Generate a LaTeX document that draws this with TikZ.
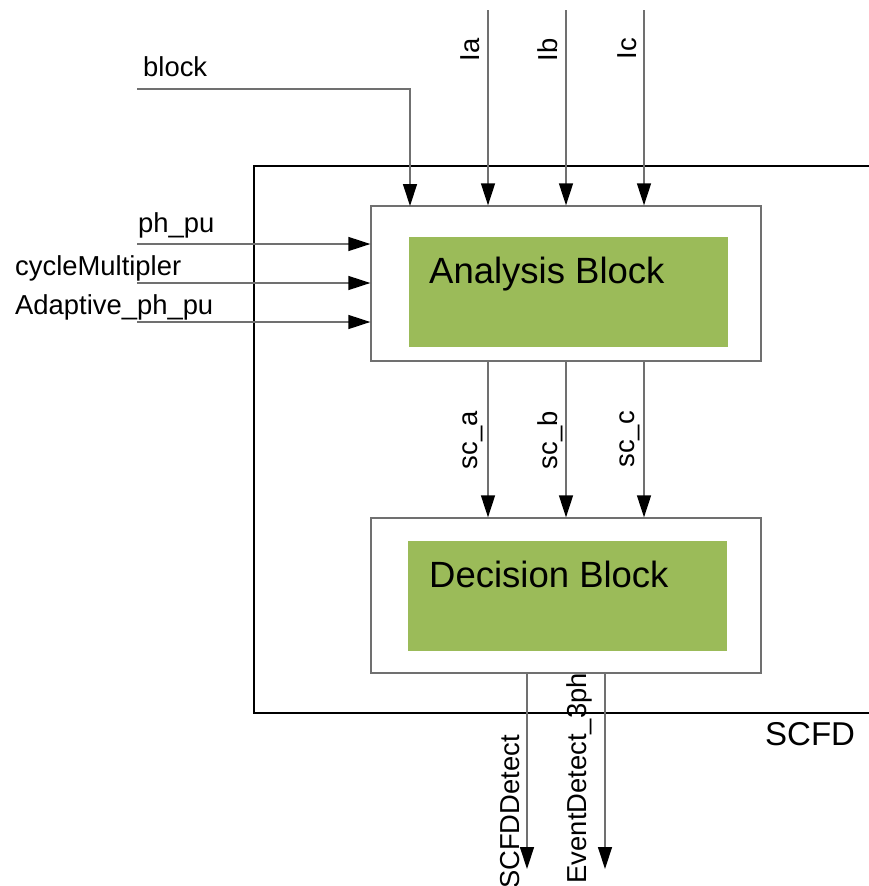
\documentclass[tikz,border=0pt]{standalone}
\usepackage{fontspec}
\setmainfont{Liberation Sans}
\usetikzlibrary{arrows.meta}
\definecolor{blkgreen}{HTML}{9BBB59}
\definecolor{wiregray}{HTML}{707070}
\tikzset{
  lbl/.style={inner sep=0pt, font=\fontsize{27.4}{33}\selectfont},
  vlbl/.style={lbl, rotate=90, anchor=base east},
  hlbl/.style={lbl, anchor=base west},
  outerbox/.style={draw=wiregray, line width=1.3pt, fill=white, minimum width=390pt, minimum height=155pt, inner sep=0pt},
  greenbox/.style={fill=blkgreen, minimum width=319pt, minimum height=110pt, inner sep=0pt},
  blocktext/.style={inner sep=0pt, anchor=base west, font=\fontsize{36.5}{42}\selectfont},
  wire/.style={draw=wiregray, line width=1.3pt, -{Triangle[length=22pt,width=14pt,color=black]}},
  container/.style={draw=black, line width=2.5pt}
}
\begin{document}
\begin{tikzpicture}[x=1pt,y=-1pt]
\useasboundingbox (0,0) rectangle (869,886);
% container
\coordinate (ctr) at (869,166);
\coordinate (cbr) at (869,713);
\coordinate (ctl) at (254,166);
\draw[container] (ctr) -- (ctl) |- (cbr);
\node[anchor=base west, inner sep=0pt, font=\fontsize{33}{40}\selectfont] (scfd) at (765,745) {SCFD};
% blocks
\node[outerbox] (ana) at (566,283.5) {};
\node[greenbox] (anag) at (568.5,292) {};
\node[blocktext] (anat) at (429,283) {Analysis Block};
\node[outerbox] (dec) at (566,595.5) {};
\node[greenbox] (decg) at (567.5,596) {};
\node[blocktext] (dect) at (429,587) {Decision Block};
% top inputs
\coordinate (ia) at (488,10);
\coordinate (ib) at (566,10);
\coordinate (ic) at (644,10);
\draw[wire] (ia) -- (ia |- ana.north);
\draw[wire] (ib) -- (ib |- ana.north);
\draw[wire] (ic) -- (ic |- ana.north);
\node[vlbl] (lia) at (479,38) {Ia};
\node[vlbl] (lib) at (557,38) {Ib};
\node[vlbl] (lic) at (636,38) {Ic};
% block input
\coordinate (blk) at (137,89);
\coordinate (blkd) at (410,206);
\draw[wire] (blk) -| (blkd);
\node[hlbl] (lblk) at (143,76) {block};
% side inputs
\coordinate (ph) at (137,244);
\coordinate (cm) at (137,283);
\coordinate (ad) at (137,322);
\draw[wire] (ph) -- (ph -| ana.west);
\draw[wire] (cm) -- (cm -| ana.west);
\draw[wire] (ad) -- (ad -| ana.west);
\node[hlbl] (lph) at (138,232) {ph\_pu};
\node[hlbl] (lcm) at (15,275) {cycleMultipler};
\node[hlbl] (lad) at (15,314) {Adaptive\_ph\_pu};
% analysis -> decision
\draw[wire] (ia |- ana.south) -- (ia |- dec.north);
\draw[wire] (ib |- ana.south) -- (ib |- dec.north);
\draw[wire] (ic |- ana.south) -- (ic |- dec.north);
\node[vlbl] (lsa) at (477,411) {sc\_a};
\node[vlbl] (lsb) at (557,411) {sc\_b};
\node[vlbl] (lsc) at (634,411) {sc\_c};
% outputs
\coordinate (o1) at (527,869);
\coordinate (o2) at (605,869);
\draw[wire] (o1 |- dec.south) -- (o1);
\draw[wire] (o2 |- dec.south) -- (o2);
\node[vlbl] (lo1) at (519,735) {SCFDDetect};
\node[vlbl] (lo2) at (586,673) {EventDetect\_3ph};
\end{tikzpicture}
\end{document}
